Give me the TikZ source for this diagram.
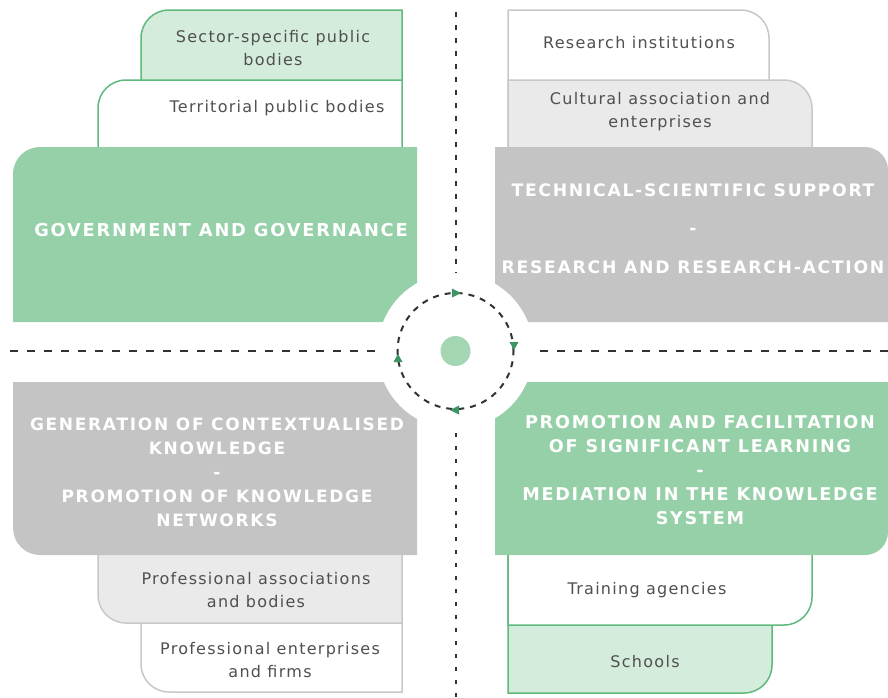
\documentclass[tikz,border=0pt]{standalone}
\usepackage{fontspec}
\setmainfont{DejaVu Sans}
\newfontfamily\boxfont[LetterSpace=8]{DejaVu Sans}
\newfontfamily\headfont[LetterSpace=10]{DejaVu Sans}
\definecolor{gmainc}{RGB}{150,208,168}
\definecolor{glightc}{RGB}{212,236,220}
\definecolor{gborderc}{RGB}{95,185,125}
\definecolor{graymainc}{RGB}{196,196,196}
\definecolor{graylightc}{RGB}{234,234,234}
\definecolor{grayborderc}{RGB}{200,200,200}
\definecolor{txtc}{RGB}{80,80,80}
\definecolor{arrowc}{RGB}{60,150,100}
\definecolor{dotc}{RGB}{165,214,180}
\definecolor{dashc}{RGB}{50,50,50}
\tikzset{
  gsmall/.style={fill=glightc,draw=gborderc,line width=1.5pt},
  gwhite/.style={fill=white,draw=gborderc,line width=1.5pt},
  ysmall/.style={fill=graylightc,draw=grayborderc,line width=1.5pt},
  ywhite/.style={fill=white,draw=grayborderc,line width=1.5pt},
  smalltxt/.style={text=txtc,align=center,inner sep=0pt,font=\boxfont\fontsize{16}{23}\selectfont},
  bigtxt/.style={text=white,align=center,inner sep=0pt,font=\headfont\bfseries\fontsize{17}{24}\selectfont},
  vdash/.style={draw=dashc,line width=2pt,dash pattern=on 4.5pt off 8.5pt},
  hdash/.style={draw=dashc,line width=2pt,dash pattern=on 8pt off 9pt},
  cdash/.style={draw=dashc,line width=2pt,dash pattern=on 6pt off 6pt},
  arrowtri/.style={fill=arrowc}
}
\begin{document}
\begin{tikzpicture}[x=1pt,y=-1pt]
\useasboundingbox (0,0) rectangle (888,697);
\begin{scope}
\clip (0,0) rectangle (888,697);
% top-left quadrant
\filldraw[gsmall] (141,147) -- (141,38) .. controls (141,22.5) and (153.5,10) .. (169,10) -- (402,10) -- (402,147);
\filldraw[gwhite] (98,147) -- (98,108) .. controls (98,92.5) and (110.5,80) .. (126,80) -- (402,80) -- (402,147);
\fill[gmainc] (13,322) -- (13,174) .. controls (13,159.1) and (25.1,147) .. (40,147) -- (417,147) -- (417,322) -- cycle;
% top-right quadrant
\filldraw[ywhite] (508,147) -- (508,10) -- (741,10) .. controls (756.5,10) and (769,22.5) .. (769,38) -- (769,147);
\filldraw[ysmall] (508,147) -- (508,80) -- (784,80) .. controls (799.5,80) and (812,92.5) .. (812,108) -- (812,147);
\fill[graymainc] (495,322) -- (495,147) -- (865,147) .. controls (877.7,147) and (888,157.3) .. (888,170) -- (888,322) -- cycle;
% bottom-left quadrant
\filldraw[ywhite] (141,555) -- (141,664) .. controls (141,679.5) and (153.5,692) .. (169,692) -- (402,692) -- (402,555);
\filldraw[ysmall] (98,555) -- (98,595) .. controls (98,610.5) and (110.5,623) .. (126,623) -- (402,623) -- (402,555);
\fill[graymainc] (13,382) -- (417,382) -- (417,555) -- (40,555) .. controls (25.1,555) and (13,542.9) .. (13,528) -- cycle;
% bottom-right quadrant
\filldraw[gsmall] (508,555) -- (508,693) -- (744,693) .. controls (759.5,693) and (772,680.5) .. (772,665) -- (772,555);
\filldraw[gwhite] (508,555) -- (508,625) -- (784,625) .. controls (799.5,625) and (812,612.5) .. (812,597) -- (812,555);
\fill[gmainc] (495,382) -- (888,382) -- (888,532) .. controls (888,544.7) and (877.7,555) .. (865,555) -- (495,555) -- cycle;
% axes
\coordinate (c) at (455.5,351);
\coordinate (vt) at (455.5,12);
\coordinate (vb) at (455.5,697);
\coordinate (hl) at (10,351);
\coordinate (hr) at (888,351);
\draw[vdash] (vt) -- (c);
\draw[vdash] (vb) -- (c);
\draw[hdash] (hl) -- (c);
\draw[hdash] (hr) -- (c);
\fill[white] (c) circle[radius=78pt];
\draw[cdash] (c) circle[radius=58pt];
\fill[arrowtri] (452,288.5) -- (461,293) -- (452,297.5) -- cycle;
\fill[arrowtri] (509.5,342) -- (518.5,342) -- (514,350) -- cycle;
\fill[arrowtri] (459,405.5) -- (450,410) -- (459,414.5) -- cycle;
\fill[arrowtri] (393.5,362) -- (402.5,362) -- (398,354) -- cycle;
\fill[dotc] (c) circle[radius=15pt];
% texts
\node[smalltxt] (sector) at (273,48.5) {Sector-specific public\\bodies};
\node[smalltxt] (territ) at (277,108) {Territorial public bodies};
\node[bigtxt,font=\headfont\bfseries\fontsize{17.8}{24}\selectfont] (gov) at (221,230) {GOVERNMENT AND GOVERNANCE};
\node[smalltxt] (resinst) at (639,43) {Research institutions};
\node[smalltxt] (cultural) at (660,111.5) {Cultural association and\\enterprises};
\node[bigtxt,font=\headfont\bfseries\fontsize{17.2}{38.5}\selectfont] (tech) at (693,228.5) {TECHNICAL-SCIENTIFIC SUPPORT\\-\\RESEARCH AND RESEARCH-ACTION};
\node[bigtxt] (gen) at (217,472) {GENERATION OF CONTEXTUALISED\\KNOWLEDGE\\-\\PROMOTION OF KNOWLEDGE\\NETWORKS};
\node[bigtxt,font=\headfont\bfseries\fontsize{17.6}{24}\selectfont] (promo) at (700,470) {PROMOTION AND FACILITATION\\OF SIGNIFICANT LEARNING\\-\\MEDIATION IN THE KNOWLEDGE\\SYSTEM};
\node[smalltxt] (profassoc) at (256,590.5) {Professional associations\\and bodies};
\node[smalltxt] (profent) at (270,660) {Professional enterprises\\and firms};
\node[smalltxt] (training) at (647,590) {Training agencies};
\node[smalltxt] (schools) at (645,662) {Schools};
\end{scope}
\end{tikzpicture}
\end{document}
